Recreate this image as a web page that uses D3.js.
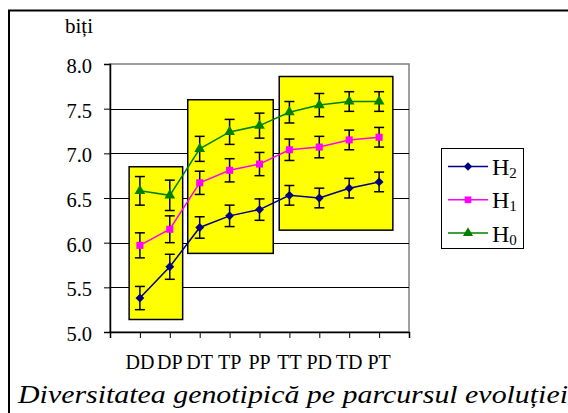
<!DOCTYPE html>
<html>
<head>
<meta charset="utf-8">
<script src="https://cdn.jsdelivr.net/npm/d3@7"></script>
<style>
  body { margin: 0; background: #fff; }
</style>
</head>
<body>
<svg id="chart" width="568" height="413"></svg>
<script>
// categories along the x axis
const categories = ["DD", "DP", "DT", "TP", "PP", "TT", "PD", "TD", "PT"];

// series values (bits) and half-widths of the error bars
const h2Values = [5.38, 5.73, 6.17, 6.30, 6.37, 6.53, 6.50, 6.61, 6.68];
const h2Errors = [0.13, 0.14, 0.12, 0.12, 0.12, 0.11, 0.11, 0.11, 0.11];
const h1Values = [5.97, 6.15, 6.67, 6.81, 6.88, 7.04, 7.07, 7.15, 7.18];
const h1Errors = [0.14, 0.15, 0.13, 0.13, 0.13, 0.12, 0.12, 0.11, 0.11];
const h0Values = [6.58, 6.53, 7.05, 7.24, 7.31, 7.46, 7.54, 7.58, 7.58];
const h0Errors = [0.16, 0.17, 0.14, 0.14, 0.14, 0.12, 0.13, 0.11, 0.11];

const yTicks = [5.0, 5.5, 6.0, 6.5, 7.0, 7.5, 8.0];

// highlighted groups (yellow boxes), in category-slot and value units
const groupBoxes = [
	{ x0: 0.64, x1: 2.43, top: 6.85, bottom: 5.14 },
	{ x0: 2.60, x1: 5.46, top: 7.60, bottom: 5.88 },
	{ x0: 5.66, x1: 9.46, top: 7.86, bottom: 6.14 },
];

const series = [
	{ name: "H", sub: "2", values: h2Values, errors: h2Errors, color: "#000080", shape: d3.symbolDiamond2 },
	{ name: "H", sub: "1", values: h1Values, errors: h1Errors, color: "#FF00FF", shape: d3.symbolSquare },
	{ name: "H", sub: "0", values: h0Values, errors: h0Errors, color: "#008000", shape: d3.symbolTriangle },
];

const FONT = '"Liberation Serif", serif';

const svg = d3.select("#chart");
const plot = { left: 110, right: 409, top: 64, bottom: 332 };

const x = d3.scaleLinear().domain([0, categories.length + 1]).range([plot.left, plot.right]);
const y = d3.scaleLinear().domain([5, 8]).range([plot.bottom, plot.top]);

// outer chart frame (runs off the right and bottom edges)
svg.append("rect")
	.attr("x", 9).attr("y", 10.5).attr("width", 700).attr("height", 500)
	.attr("fill", "none").attr("stroke", "#000").attr("stroke-width", 2);

// unit label
svg.append("text").attr("x", 65).attr("y", 33)
	.style("font-family", FONT).style("font-size", "21px").text("biți");

// plot area border (gray) and gridlines
svg.append("rect")
	.attr("x", plot.left).attr("y", plot.top)
	.attr("width", plot.right - plot.left).attr("height", plot.bottom - plot.top)
	.attr("fill", "none").attr("stroke", "#808080").attr("stroke-width", 1.5);

svg.append("g").selectAll("line")
	.data(yTicks.filter(t => t > 5 && t < 8))
	.join("line")
	.attr("x1", plot.left).attr("x2", plot.right)
	.attr("y1", d => Math.round(y(d)) + 0.5).attr("y2", d => Math.round(y(d)) + 0.5)
	.attr("stroke", "#000").attr("stroke-width", 1);

// y axis
const yAxis = svg.append("g")
	.attr("transform", `translate(${plot.left},0)`)
	.call(d3.axisLeft(y).tickValues(yTicks).tickFormat(d3.format(".1f")).tickSize(6).tickPadding(12));
yAxis.select(".domain").attr("stroke", "#000").attr("stroke-width", 1.5);
yAxis.selectAll("text")
	.style("font-family", FONT).style("font-size", "20.5px")
	.attr("fill", "#000").attr("dy", "0.42em");

// x axis: ticks at every slot, labels under the points
const xAxis = svg.append("g")
	.attr("transform", `translate(0,${plot.bottom})`)
	.call(d3.axisBottom(x).tickValues(d3.range(0, categories.length + 2)).tickFormat("").tickSize(6));
xAxis.select(".domain").attr("stroke", "#000").attr("stroke-width", 1.5);

svg.append("g").selectAll("text")
	.data(categories)
	.join("text")
	.attr("x", (d, i) => x(i + 1)).attr("y", 369)
	.attr("text-anchor", "middle")
	.style("font-family", FONT).style("font-size", "20px")
	.text(d => d);

// yellow group boxes
svg.append("g").selectAll("rect")
	.data(groupBoxes)
	.join("rect")
	.attr("x", d => x(d.x0)).attr("y", d => y(d.top))
	.attr("width", d => x(d.x1) - x(d.x0)).attr("height", d => y(d.bottom) - y(d.top))
	.attr("fill", "#FFFF00").attr("stroke", "#000").attr("stroke-width", 1.5);

// lines, error bars, markers
const line = d3.line().x((d, i) => x(i + 1)).y(d => y(d));
const capW = 5;

series.forEach(s => {
	const g = svg.append("g");
	g.append("path").datum(s.values)
		.attr("d", line).attr("fill", "none")
		.attr("stroke", s.color).attr("stroke-width", 1.5);

	const eb = g.append("g").selectAll("g")
		.data(s.values.map((v, i) => ({ v, e: s.errors[i], i })))
		.join("g")
		.attr("stroke", "#000").attr("stroke-width", 1.5);
	eb.append("line")
		.attr("x1", d => x(d.i + 1)).attr("x2", d => x(d.i + 1))
		.attr("y1", d => y(d.v + d.e)).attr("y2", d => y(d.v - d.e));
	eb.append("line")
		.attr("x1", d => x(d.i + 1) - capW).attr("x2", d => x(d.i + 1) + capW)
		.attr("y1", d => y(d.v + d.e)).attr("y2", d => y(d.v + d.e));
	eb.append("line")
		.attr("x1", d => x(d.i + 1) - capW).attr("x2", d => x(d.i + 1) + capW)
		.attr("y1", d => y(d.v - d.e)).attr("y2", d => y(d.v - d.e));

	g.append("g").selectAll("path")
		.data(s.values)
		.join("path")
		.attr("transform", (d, i) => `translate(${x(i + 1)},${y(d)})`)
		.attr("d", d3.symbol().type(s.shape).size(50))
		.attr("fill", s.color);
});

// legend
const legend = svg.append("g").attr("transform", "translate(441,148)");
legend.append("rect")
	.attr("x", 0.5).attr("y", 0.5).attr("width", 82).attr("height", 100)
	.attr("fill", "#fff").attr("stroke", "#000").attr("stroke-width", 1);

series.forEach((s, i) => {
	const row = legend.append("g").attr("transform", `translate(0,${18.5 + i * 33.3})`);
	row.append("line").attr("x1", 7).attr("x2", 47)
		.attr("stroke", s.color).attr("stroke-width", 1.5);
	row.append("path").attr("transform", "translate(27,0)")
		.attr("d", d3.symbol().type(s.shape).size(45)).attr("fill", s.color);
	const t = row.append("text").attr("x", 51).attr("y", 8.5)
		.style("font-family", FONT).style("font-size", "24px");
	t.append("tspan").text(s.name);
	t.append("tspan").style("font-size", "15px").attr("dy", 3).text(s.sub);
});

// chart title (italic, stretched like the source, runs past the right edge)
svg.append("text")
	.attr("x", 18).attr("y", 403)
	.style("font-family", FONT).style("font-size", "25px").style("font-style", "italic")
	.attr("textLength", 550).attr("lengthAdjust", "spacingAndGlyphs")
	.text("Diversitatea genotipică pe parcursul evoluției");
</script>
</body>
</html>
